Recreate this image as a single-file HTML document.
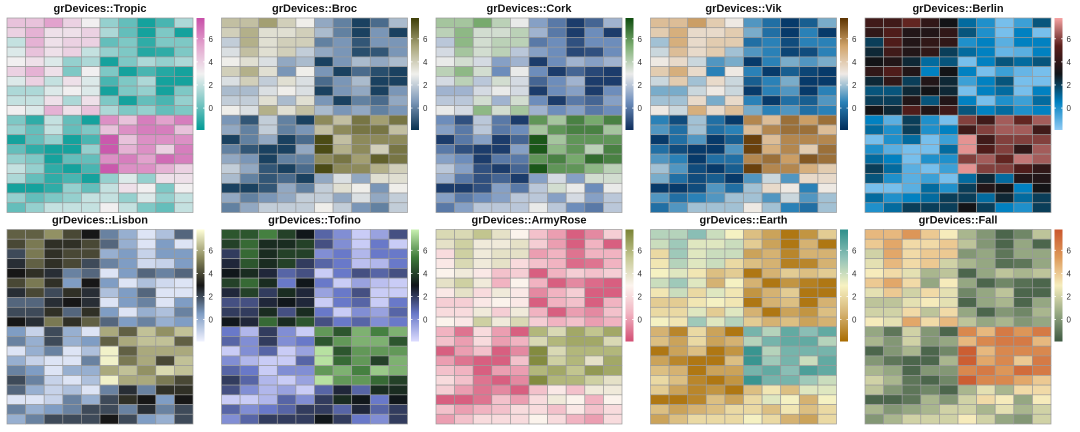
<!DOCTYPE html>
<html><head><meta charset="utf-8">
<style>
html,body{margin:0;padding:0;background:#fff;width:1080px;height:432px;overflow:hidden}
svg text{font-family:"Liberation Sans",sans-serif}
</style></head>
<body>
<svg id="chart" width="1080" height="432" viewBox="0 0 1080 432" xmlns="http://www.w3.org/2000/svg"></svg>
<script>
const paletteNames = ["Tropic","Broc","Cork","Vik","Berlin","Lisbon","Tofino","ArmyRose","Earth","Fall"];
const paletteStops = [
 ["#009B95","#7FC8C5","#F1F1F1","#E3A7CF","#C74EA8"],
 ["#07304F","#7B97B8","#F0F0EC","#A8A478","#3E3E07"],
 ["#0C2C5B","#6E8EBC","#EBEBEB","#7DAF72","#0D4B0D"],
 ["#002C5A","#2A82B8","#EFEAE6","#D1A46A","#5C3300"],
 ["#8FCBF5","#0080C0","#111417","#5A1E1A","#F7A3A3"],
 ["#F0F2FF","#7E9CC3","#151515","#8C8B5E","#FFFFD8"],
 ["#DCDCFF","#6878C8","#10151A","#3E7A3A","#C8F0B0"],
 ["#D34E73","#F1B4C2","#FCF4EE","#C6C994","#798234"],
 ["#A86B00","#D5B373","#F7F2C2","#8FC1B7","#2D8F8A"],
 ["#3D5941","#96A883","#F6EDBD","#DE9A5A","#CA562C"]
];
const legendTicks = [0,2,4,6];
const valueMin = -1.9, valueMax = 7.8;
const cellValues = [
 [4.5,4.5,5.5,4,3,1,0,-1.5,-0.5,1.5],
 [4,5,3.5,3.5,4,1.5,0,-1.5,0.5,-1.5],
 [2,5,3.5,4,4,0,0.5,-1,0.5,0.5],
 [2.5,4.5,3.5,4,2,1,0.5,-1.2,-1,0.5],
 [3,3.5,2.5,1,1.5,-1.5,0.5,1.5,1,1.5],
 [4,5,3.5,0.5,3,0.5,-1.5,-0.5,-1.2,-1.5],
 [2.5,4,2,3.5,2.5,-0.5,0.5,1.5,-1.5,-1.5],
 [1.5,1.5,2.5,3,2.5,-1.5,0.5,1,-1.5,0.5],
 [2,2,3.5,1.5,3.5,0.5,-1.5,0,-0.5,1],
 [3,2.5,5,3.5,4.5,1.5,0.5,1,0,0.5],
 [0.5,-1,2,0,-1.5,6,4.5,6.5,5.5,6.5],
 [1,0,2,0,0.5,4.5,6,6.5,6.5,4.5],
 [-1.5,0,1,-1.5,-0.5,7.5,4.5,6,6,6],
 [0,-1,-1.5,-1.5,1,7.5,5,6,4,6.5],
 [1,0.5,-1.5,0,0,6,6.5,5.5,7,6.5],
 [2,1,-1,-1.5,-0.5,7.5,6,6,5,4],
 [1.5,0,-1,-0.5,-1.5,1,2.5,1,3.5,3.5],
 [-1.5,-1.5,-1,1,0,2,3.5,3,0.5,3],
 [1,0,0.5,1,2,2,1,2.5,1,2],
 [0,1,2,2,2,3,2,0.5,0,2]
];

const NS="http://www.w3.org/2000/svg";
const svg=document.getElementById('chart');
function mk(tag,attrs,parent){const e=document.createElementNS(NS,tag);for(const k in attrs)e.setAttribute(k,attrs[k]);(parent||svg).appendChild(e);return e;}
function hex(h){return [parseInt(h.slice(1,3),16),parseInt(h.slice(3,5),16),parseInt(h.slice(5,7),16)];}
function colorFor(stops,v){
  let t=(v-valueMin)/(valueMax-valueMin);t=Math.max(0,Math.min(1,t));
  const n=stops.length-1;const p=t*n;let i=Math.min(n-1,Math.floor(p));const f=p-i;
  const a=hex(stops[i]),b=hex(stops[i+1]);
  return 'rgb('+a.map((c,k)=>Math.round(c+(b[k]-c)*f)).join(',')+')';
}
const nRows=cellValues.length,nCols=cellValues[0].length;
paletteNames.forEach((name,pi)=>{
  const col=pi%5,row=Math.floor(pi/5);
  const x0=7+col*214.5, y0=row===0?18:229.5, w=186, h=194.5;
  const xScale=c=>x0+c*w/nCols, yScale=r=>y0+r*h/nRows;
  const g=mk('g',{});
  
  
  const t=mk('text',{x:x0+w/2,y:y0-6,'text-anchor':'middle','font-size':'11','font-weight':'bold',fill:'#111'},g);
  t.textContent='grDevices::'+name;
  
  
  for(let r=0;r<nRows;r++)for(let c=0;c<nCols;c++){
    const rc=mk('rect',{x:xScale(c),y:yScale(r),width:w/nCols,height:h/nRows,fill:colorFor(paletteStops[pi],cellValues[r][c]),stroke:'#9a9a9a','stroke-width':'0.7'},g);
    
    
  }
  // legend
  const lx=x0+w+3.5, ly0=y0, lh=112, lw=8;
  const lyScale=v=>ly0+lh*(valueMax-v)/(valueMax-valueMin);
  const gradId='grad'+pi;
  const defs=mk('defs',{},g);
  const lg=mk('linearGradient',{id:gradId,x1:0,y1:1,x2:0,y2:0},defs);
  paletteStops[pi].forEach((s,i)=>mk('stop',{offset:(i/(paletteStops[pi].length-1)),'stop-color':s},lg));
  const lr=mk('rect',{x:lx,y:ly0,width:lw,height:lh,fill:'url(#'+gradId+')'},g);
  
  
  legendTicks.forEach(v=>{
    const yy=lyScale(v);
    mk('line',{x1:lx,x2:lx+1.5,y1:yy,y2:yy,stroke:'#fff','stroke-width':'0.8'},g);
    mk('line',{x1:lx+lw-1.5,x2:lx+lw,y1:yy,y2:yy,stroke:'#fff','stroke-width':'0.8'},g);
    const tl=mk('text',{x:lx+lw+4,y:yy+3,'font-size':'8',fill:'#333'},g);
    tl.textContent=v;
    
    
  });
});
</script>
</body></html>
